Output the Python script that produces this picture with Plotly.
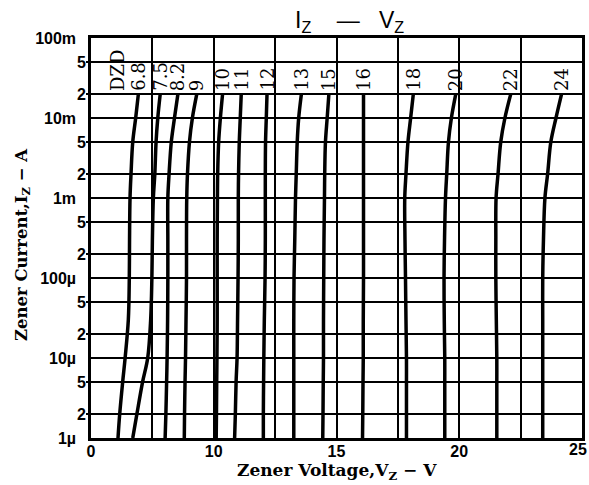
import plotly.graph_objects as go

# ---- data ----
currents = [20e-3, 10e-3, 5e-3, 2e-3, 1e-3, 300e-6, 100e-6, 30e-6, 10e-6, 5e-6, 2e-6, 1e-6]
diode_labels = ["6.8", "7.5", "8.2", "9", "10", "11", "12", "13", "15", "16", "18", "20", "22", "24"]
v_6_8 = [6.93, 6.82, 6.70, 6.63, 6.59, 6.57, 6.56, 6.52, 6.39, 6.29, 6.17, 6.10]
v_7_5 = [7.82, 7.72, 7.65, 7.60, 7.54, 7.50, 7.48, 7.43, 7.31, 7.10, 6.87, 6.70]
v_8_2 = [8.54, 8.40, 8.27, 8.18, 8.13, 8.13, 8.13, 8.12, 8.10, 8.08, 8.05, 8.02]
v_9 = [9.31, 9.13, 9.01, 8.93, 8.90, 8.89, 8.89, 8.87, 8.85, 8.83, 8.81, 8.80]
v_10 = [10.36, 10.27, 10.20, 10.16, 10.15, 10.14, 10.14, 10.14, 10.13, 10.12, 10.11, 10.10]
v_11 = [11.12, 11.08, 11.04, 11.01, 11.00, 11.00, 10.99, 10.97, 10.95, 10.91, 10.88, 10.85]
v_12 = [12.17, 12.14, 12.11, 12.10, 12.10, 12.10, 12.09, 12.06, 12.04, 12.03, 12.02, 12.02]
v_13 = [13.57, 13.46, 13.40, 13.36, 13.33, 13.30, 13.27, 13.26, 13.26, 13.26, 13.26, 13.26]
v_15 = [14.69, 14.62, 14.55, 14.52, 14.51, 14.49, 14.48, 14.47, 14.47, 14.46, 14.45, 14.44]
v_16 = [16.10, 16.10, 16.10, 16.10, 16.10, 16.10, 16.10, 16.09, 16.09, 16.08, 16.07, 16.06]
v_18 = [18.13, 18.02, 17.91, 17.83, 17.78, 17.79, 17.81, 17.83, 17.85, 17.85, 17.85, 17.85]
v_20 = [19.86, 19.68, 19.56, 19.49, 19.44, 19.40, 19.38, 19.39, 19.41, 19.41, 19.41, 19.41]
v_22 = [22.10, 21.86, 21.69, 21.58, 21.50, 21.49, 21.49, 21.51, 21.53, 21.53, 21.53, 21.53]
v_24 = [24.17, 23.94, 23.73, 23.60, 23.49, 23.43, 23.40, 23.40, 23.40, 23.40, 23.40, 23.40]
series = [v_6_8, v_7_5, v_8_2, v_9, v_10, v_11, v_12, v_13, v_15, v_16, v_18, v_20, v_22, v_24]

x_tickvals = [5, 7.5, 10, 12.5, 15, 17.5, 20, 22.5, 25]
x_ticktext = ["0", " ", "10", " ", "15", " ", "20", " ", " "]
x_last_label = "25"
y_major_vals = [1e-1, 1e-2, 1e-3, 1e-4, 1e-5, 1e-6]
y_major_text = ["100m", "10m", "1m", "100µ", "10µ", "1µ"]
y_minor_vals = [5e-2, 2e-2, 5e-3, 2e-3, 5e-4, 2e-4, 5e-5, 2e-5, 5e-6, 2e-6]
y_minor_text = ["5", "2", "5", "2", "5", "2", "5", "2", "5", "2"]

SANS = "Liberation Sans"
SERIF = "DejaVu Serif"
NB = "\u00a0"

fig = go.Figure()
for name, vals in zip(diode_labels, series):
    fig.add_trace(go.Scatter(
        x=vals, y=currents, mode="lines", name=name,
        line=dict(color="black", width=3.5, shape="spline", smoothing=1.0),
        showlegend=False, hoverinfo="skip"))

# dummy trace so the overlaid minor-label axis is drawn
fig.add_trace(go.Scatter(x=[None], y=[None], yaxis="y2", showlegend=False, hoverinfo="skip"))

annotations = []
# curve labels (rotated) just above the 20m grid line
for name, vals in zip(diode_labels, series):
    annotations.append(dict(
        x=vals[0], y=-1.699, xref="x", yref="y", text=name, textangle=-90,
        showarrow=False, xanchor="center", yanchor="bottom", yshift=1,
        font=dict(family=SERIF, size=18, color="black")))
annotations.append(dict(
    x=6.08, y=-1.699, xref="x", yref="y", text="DZD", textangle=-90,
    showarrow=False, xanchor="center", yanchor="bottom", yshift=1,
    font=dict(family=SERIF, size=18, color="black")))

# last x tick label, kept inside the page
annotations.append(dict(
    x=x_tickvals[-1], y=0, xref="x", yref="paper", text="<b>" + x_last_label + "</b>",
    showarrow=False, xanchor="center", yanchor="top", yshift=-1, xshift=-4,
    font=dict(family=SANS, size=16, color="black")))

# title
annotations.append(dict(
    x=0.527, y=1.0425, xref="paper", yref="paper",
    text="I<sub>Z</sub>" + NB * 4 + "—" + NB * 3 + "V<sub>Z</sub>", showarrow=False,
    xanchor="center", yanchor="middle",
    font=dict(family=SANS, size=23, color="black")))
# axis titles
annotations.append(dict(
    x=0.5, y=-0.0825, xref="paper", yref="paper",
    text="<b>Zener Voltage,V<sub>Z</sub> − V</b>", showarrow=False,
    xanchor="center", yanchor="middle",
    font=dict(family=SERIF, size=17, color="black")))
annotations.append(dict(
    x=-0.1405, y=0.4825, xref="paper", yref="paper",
    text="<b>Zener Current,I<sub>Z</sub> − A</b>", showarrow=False, textangle=-90,
    xanchor="center", yanchor="middle",
    font=dict(family=SERIF, size=16.5, color="black")))

fig.update_layout(
    width=589, height=485,
    margin=dict(l=91, r=7, t=38, b=47, autoexpand=False),
    paper_bgcolor="white", plot_bgcolor="white",
    annotations=annotations,
    xaxis=dict(
        range=[5, 25], tickvals=x_tickvals, ticktext=x_ticktext,
        showgrid=True, gridcolor="black", gridwidth=1.5,
        zeroline=False, ticks="", showline=True, mirror=True,
        linecolor="black", linewidth=2.5, automargin=False,
        ticklabeloverflow="allow",
        tickfont=dict(family=SANS, size=16, color="black", weight="bold"),
        ticklabelstandoff=-3),
    yaxis=dict(
        type="log", range=[-6, -1], tickvals=y_major_vals, ticktext=y_major_text,
        showgrid=True, gridcolor="black", gridwidth=2,
        zeroline=False, ticks="", showline=True, mirror=True,
        linecolor="black", linewidth=2.5, automargin=False,
        ticklabeloverflow="allow",
        tickfont=dict(family=SANS, size=16, color="black", weight="bold"),
        ticklabelstandoff=9),
    yaxis2=dict(
        type="log", range=[-6, -1], overlaying="y", side="left",
        tickvals=y_minor_vals, ticktext=y_minor_text,
        showgrid=True, gridcolor="black", gridwidth=1.5,
        zeroline=False, ticks="outside", ticklen=4, tickwidth=2, tickcolor="black",
        showline=False, automargin=False,
        ticklabeloverflow="allow",
        tickfont=dict(family=SANS, size=16, color="black", weight="bold"),
        ticklabelstandoff=-3),
)

# remove the default 8px page margin so the figure fills the window exactly
fig.write_html(
    "out.html",
    config={"displayModeBar": False},
    post_script="document.body.style.margin='0px';document.body.style.overflow='hidden';")
